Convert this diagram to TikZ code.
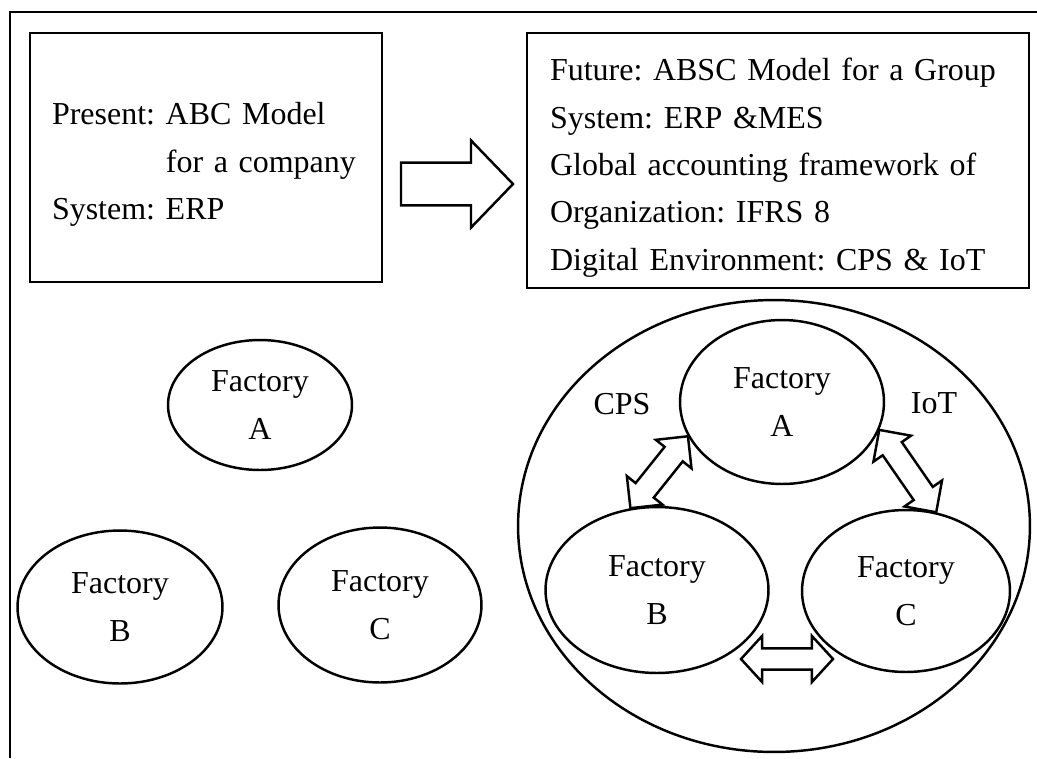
\documentclass[tikz,border=0pt]{standalone}
\usepackage{fontspec}
\setmainfont{Liberation Serif}
\usetikzlibrary{calc}
\usetikzlibrary{shapes}
\frenchspacing

\tikzset{
  infobox/.style={draw, rectangle, align=left, inner sep=0pt},
  factory/.style={draw, ellipse, align=center, inner sep=0pt},
  fat link/.style n args={3}{to path={
    (\tikztostart)
    -- ($(\tikztostart)!#1!(\tikztotarget)!#3!90:(\tikztotarget)$)
    -- ($(\tikztostart)!#1!(\tikztotarget)!#2!90:(\tikztotarget)$)
    -- ($(\tikztotarget)!#1!(\tikztostart)!#2!-90:(\tikztostart)$)
    -- ($(\tikztotarget)!#1!(\tikztostart)!#3!-90:(\tikztostart)$)
    -- (\tikztotarget)
    -- ($(\tikztotarget)!#1!(\tikztostart)!#3!90:(\tikztostart)$)
    -- ($(\tikztotarget)!#1!(\tikztostart)!#2!90:(\tikztostart)$)
    -- ($(\tikztostart)!#1!(\tikztotarget)!#2!-90:(\tikztotarget)$)
    -- ($(\tikztostart)!#1!(\tikztotarget)!#3!-90:(\tikztotarget)$)
    -- cycle}},
  fat arrow/.style n args={3}{to path={
    ($(\tikztostart)!#2!90:(\tikztotarget)$)
    -- ($(\tikztotarget)!#1!(\tikztostart)!#2!-90:(\tikztostart)$)
    -- ($(\tikztotarget)!#1!(\tikztostart)!#3!-90:(\tikztostart)$)
    -- (\tikztotarget)
    -- ($(\tikztotarget)!#1!(\tikztostart)!#3!90:(\tikztostart)$)
    -- ($(\tikztotarget)!#1!(\tikztostart)!#2!90:(\tikztostart)$)
    -- ($(\tikztostart)!#2!-90:(\tikztotarget)$)
    -- cycle}}
}

\begin{document}
\begin{tikzpicture}[x=0.02cm,y=-0.02cm,line width=1.4pt,
  every node/.style={font=\fontsize{18.2pt}{27pt}\selectfont}]
  \useasboundingbox (0,0) rectangle (1037,758);
  \draw (10,758) -- (10,12) -- (1037,12);
  \node[infobox, text width=6.16cm, minimum width=7.04cm, minimum height=4.98cm] (present) at (206,157.5)
    {\rule{0pt}{20.5pt}Present: ABC Model\\\hspace*{3.56em}for a company\\System: ERP};
  \node[infobox, text width=9.12cm, minimum width=10.04cm, minimum height=5.1cm] (future) at (778,160.5)
    {\rule{0pt}{21pt}Future: ABSC Model for a Group\\System: ERP \&MES\\Global accounting framework of\\Organization: IFRS 8\\Digital Environment: CPS \& IoT};
  \coordinate (shiftstart) at (401,184);
  \coordinate (shiftend) at (513,184);
  \draw[fat arrow={23.9pt}{12.2pt}{24.8pt}] (shiftstart) to (shiftend);

  \node[factory, minimum width=3.68cm, minimum height=2.6cm] (lefta) at (260,405) {Factory\\A};
  \node[factory, minimum width=4.1cm, minimum height=3.06cm] (leftb) at (120,607) {Factory\\B};
  \node[factory, minimum width=4.06cm, minimum height=3.1cm] (leftc) at (380,605) {Factory\\C};

  \node[factory, minimum width=10.24cm, minimum height=9.04cm] (group) at (774,526) {};
  \node[factory, minimum width=4.08cm, minimum height=3.28cm] (righta) at (782,402) {Factory\\A};
  \node[factory, minimum width=4.46cm, minimum height=3.32cm] (rightb) at (657,590) {Factory\\B};
  \node[factory, minimum width=4.16cm, minimum height=3.24cm] (rightc) at (906,591) {Factory\\C};
  \node (cps) at (622,404) {CPS};
  \node (iot) at (934,403) {IoT};
  \draw[fat link={13pt}{6.6pt}{13pt}] (righta.200) to (rightb.108);
  \draw[fat link={13pt}{6.6pt}{13pt}] (righta.344) to (rightc.69);
  \coordinate (bcleft) at (741,659);
  \coordinate (bcright) at (833,659);
  \draw[fat link={12pt}{6pt}{13.1pt}] (bcleft) to (bcright);
\end{tikzpicture}
\end{document}
